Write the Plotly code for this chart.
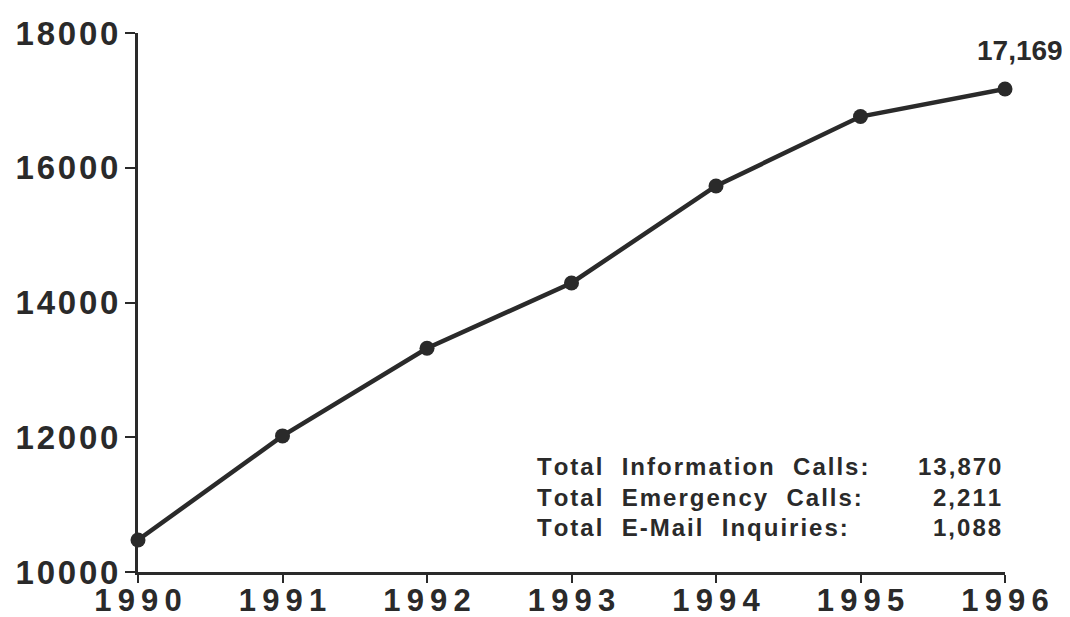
import plotly.graph_objects as go

years = [1990, 1991, 1992, 1993, 1994, 1995, 1996]
calls = [10475, 12020, 13320, 14290, 15730, 16760, 17169]
y_ticks = [10000, 12000, 14000, 16000, 18000]
final_label = "17,169"
summary_labels = ["Total  Information  Calls:", "Total  Emergency  Calls:", "Total  E-Mail  Inquiries:"]
summary_values = ["13,870", "2,211", "1,088"]

HS = "\u200a"
TS = "\u2009"
def spaced(s, sep=HS):
    return sep.join(list(s))

ink = "#2a2a2a"
font_main = "Liberation Sans"

fig = go.Figure()
fig.add_trace(go.Scatter(
    x=years, y=calls, mode="lines+markers",
    line=dict(color=ink, width=4.5),
    marker=dict(color=ink, size=15),
    cliponaxis=False, showlegend=False,
))

fig.add_annotation(x=years[-1], y=calls[-1], text=final_label, showarrow=False,
                   xshift=15, yshift=38, font=dict(family=font_main, size=28, color=ink, weight="bold"))

row_y = [0.195, 0.139, 0.083]
for lab, val, yy in zip(summary_labels, summary_values, row_y):
    fig.add_annotation(xref="paper", yref="paper", x=0.458, y=yy, text=spaced(lab), showarrow=False,
                       xanchor="left", yanchor="middle",
                       font=dict(family=font_main, size=24, color=ink, weight="bold"))
    fig.add_annotation(xref="paper", yref="paper", x=0.998, y=yy, text=spaced(val), showarrow=False,
                       xanchor="right", yanchor="middle",
                       font=dict(family=font_main, size=24, color=ink, weight="bold"))

fig.update_layout(
    width=1062, height=609,
    margin=dict(l=130, r=65, t=25, b=45),
    paper_bgcolor="white", plot_bgcolor="white",
    font=dict(family=font_main, color=ink),
)
fig.update_xaxes(
    range=[1990, 1996], tickvals=years, ticktext=[spaced(str(y), TS) for y in years],
    showgrid=False, zeroline=False, showline=True, linecolor=ink, linewidth=3,
    ticks="outside", ticklen=8, tickwidth=2, tickcolor=ink, automargin=False,
    ticklabelstandoff=-9,
    tickfont=dict(family=font_main, size=31, color=ink, weight="bold"),
)
fig.update_yaxes(
    range=[10000, 18000], tickvals=y_ticks, ticktext=[spaced(str(v)) for v in y_ticks],
    showgrid=False, zeroline=False, showline=True, linecolor=ink, linewidth=3,
    ticks="outside", ticklen=10, tickwidth=2, tickcolor=ink, automargin=False,
    tickfont=dict(family=font_main, size=33, color=ink, weight="bold"),
)

fig.write_html("out.html")
